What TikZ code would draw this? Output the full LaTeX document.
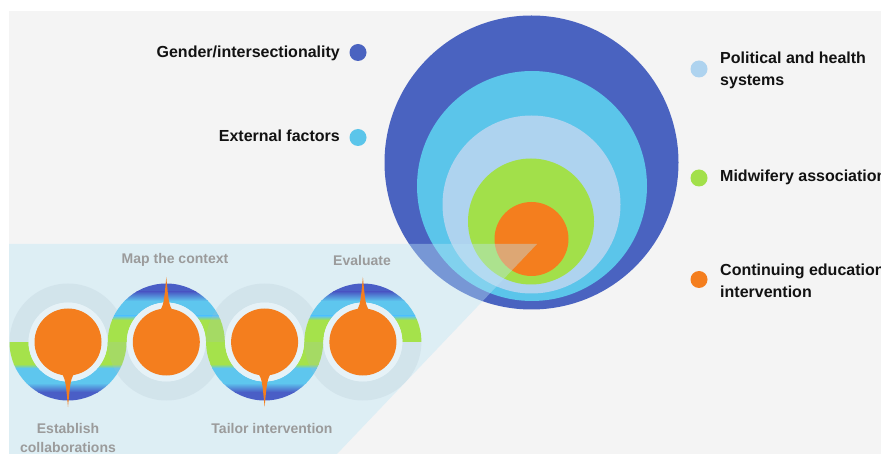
\documentclass[tikz,border=0pt]{standalone}
\usepackage{fontspec}
\setmainfont{Liberation Sans}
\definecolor{bgrey}{HTML}{F4F4F4}
\definecolor{ringdark}{HTML}{4A63C0}
\definecolor{ringcyan}{HTML}{5BC5EA}
\definecolor{ringpale}{HTML}{AED3EF}
\definecolor{ringgreen}{HTML}{A2E04A}
\definecolor{ringorange}{HTML}{F47E1E}
\definecolor{wedgeblue}{HTML}{BBE5F6}
\definecolor{halo}{HTML}{E6F2F7}
\definecolor{shadowring}{HTML}{A9BCCB}
\definecolor{steptxt}{HTML}{9B9B9B}
\definecolor{snkblue}{HTML}{4A5EC6}
\definecolor{snkcyan}{HTML}{5EC6EE}
\definecolor{snkgreen}{HTML}{A5E24B}
\tikzset{
  legdot/.style={circle,inner sep=0pt,minimum size=17pt},
  legtext/.style={inner sep=0pt,align=left,text=black!93,font=\bfseries\fontsize{16}{22}\selectfont},
  steptext/.style={inner sep=0pt,align=center,anchor=north,text=steptxt,font=\bfseries\fontsize{14}{19}\selectfont},
  stepdisc/.style={circle,inner sep=0pt,fill=ringorange,minimum size=67pt}
}
\begin{document}
\begin{tikzpicture}[x=1pt,y=-1pt,line cap=round,line join=round]
  \useasboundingbox (0,0) rectangle (881,454);
  \fill[bgrey] (9,11) rectangle (881,454);

  % nested circles
  \fill[ringdark] (531.5,162.5) circle[radius=147];
  \fill[ringcyan] (532,186) circle[radius=115];
  \fill[ringpale] (531.5,204.5) circle[radius=89];
  \fill[ringgreen] (531,221.5) circle[radius=63];
  \fill[ringorange] (531.5,239) circle[radius=37];

  % zoom wedge
  \fill[wedgeblue,fill opacity=0.4] (9,244) -- (537,244) -- (337,454) -- (9,454) -- cycle;

  % snake of rings: grey half, then coloured half in bands
  \foreach \cx/\d/\ang in {68/1/0,166.3/-1/180,264.6/1/0,362.9/-1/180}{
    \fill[shadowring,fill opacity=0.2] (\cx+39.5,342) arc[start angle=0,end angle=-180*\d,radius=39.5]
      -- (\cx-58.5,342) arc[start angle=-180*\d,end angle=0,radius=58.5] -- cycle;
    \begin{scope}
      \clip (\cx+39.5,342) arc[start angle=0,end angle=180*\d,radius=39.5]
        -- (\cx-58.5,342) arc[start angle=180*\d,end angle=0,radius=58.5] -- cycle;
      \fill[snkgreen] (\cx-60,342) rectangle (\cx+60,342+22.5*\d);
      \fill[snkcyan] (\cx-60,342+25.5*\d) rectangle (\cx+60,342+41.5*\d);
      \fill[snkblue] (\cx-60,342+49.5*\d) rectangle (\cx+60,342+60*\d);
      \shade[top color=snkgreen,bottom color=snkcyan,shading angle=\ang] (\cx-60,342+22*\d) rectangle (\cx+60,342+26*\d);
      \shade[top color=snkcyan,bottom color=snkblue,shading angle=\ang] (\cx-60,342+41*\d) rectangle (\cx+60,342+50*\d);
    \end{scope}
  }
  \foreach \cx/\d [count=\i] in {68/1,166.3/-1,264.6/1,362.9/-1}{
    \fill[halo] (\cx,342) circle[radius=39.5];
    \node[stepdisc] (disc\i) at (\cx,342) {};
    \fill[ringorange] (\cx-7,342+30*\d) .. controls (\cx-2.5,342+38*\d) .. (\cx,342+65*\d)
      .. controls (\cx+2.5,342+38*\d) .. (\cx+7,342+30*\d) -- cycle;
  }

  % step labels
  \node[steptext] (mapctx) at (175,252.7) {Map the context};
  \node[steptext] (evaluate) at (362,255.3) {Evaluate};
  \node[steptext] (establish) at (68,422.7) {Establish\\collaborations};
  \node[steptext] (tailor) at (272,422.7) {Tailor intervention};

  % legend
  \node[legdot,fill=ringdark] (dotgender) at (358,52.5) {};
  \node[legdot,fill=ringcyan] (dotexternal) at (358,137.5) {};
  \node[legdot,fill=ringpale] (dotpolitical) at (699,69) {};
  \node[legdot,fill=ringgreen] (dotmidwife) at (699,178) {};
  \node[legdot,fill=ringorange] (dotcontinuing) at (699,279.5) {};
  \node[legtext,anchor=north east] (txtgender) at (340,46) {Gender/intersectionality};
  \node[legtext,anchor=north east] (txtexternal) at (340,130) {External factors};
  \node[legtext,anchor=north west] (txtpolitical) at (720,51.7) {Political and health\\systems};
  \node[legtext,anchor=north west] (txtmidwife) at (720,169.3) {Midwifery association};
  \node[legtext,anchor=north west] (txtcontinuing) at (720,264) {Continuing education\\intervention};
\end{tikzpicture}
\end{document}
